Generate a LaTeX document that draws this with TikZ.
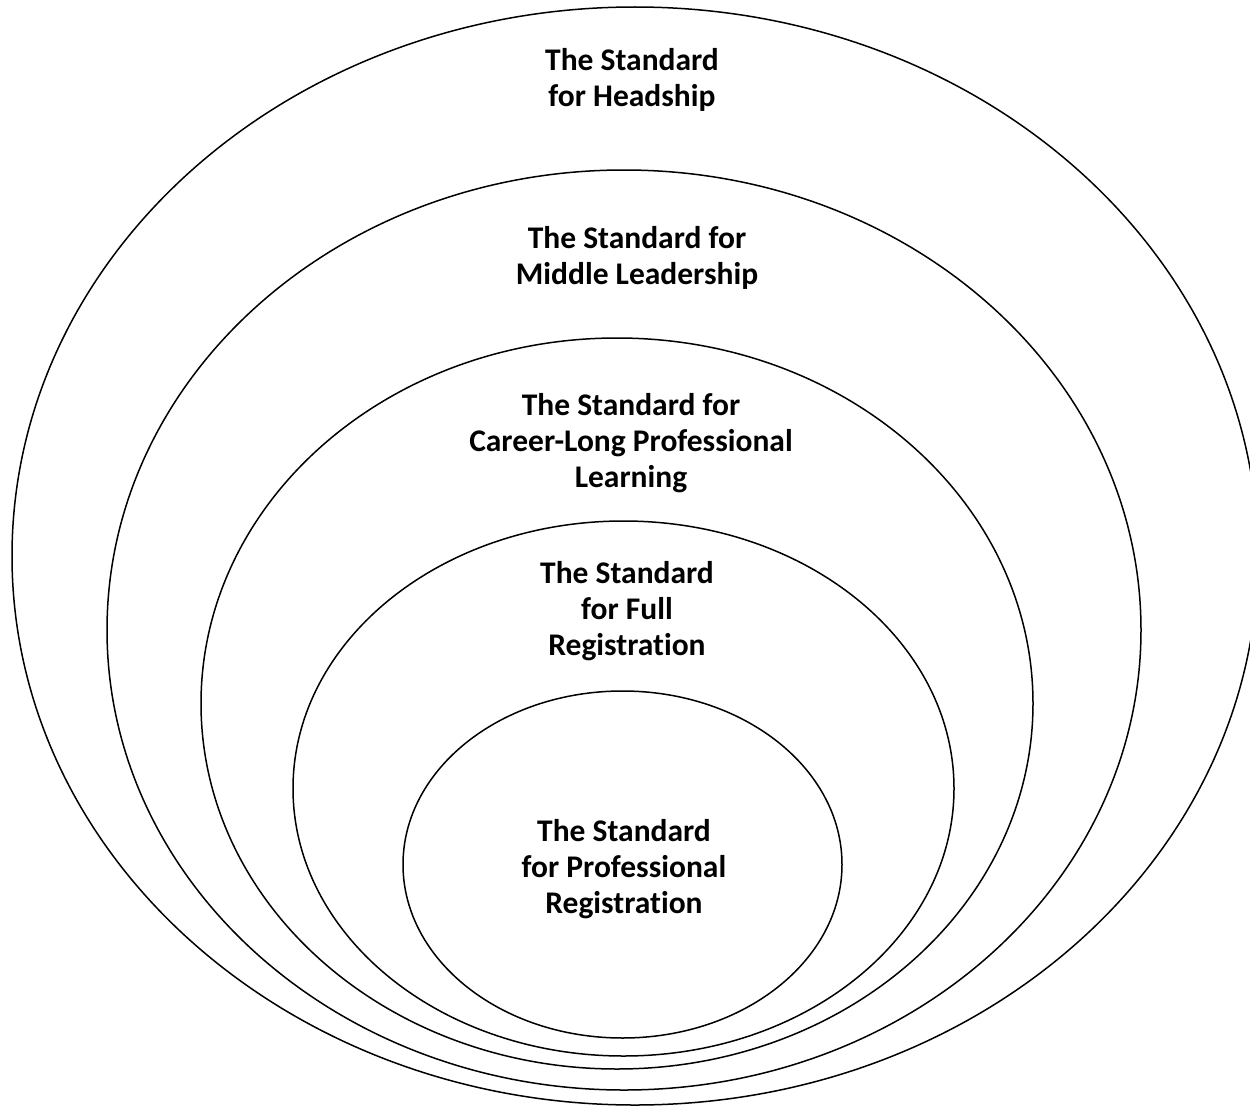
\documentclass[tikz,border=0pt]{standalone}
\usepackage{fontspec}
\setmainfont{Carlito}[Ligatures=NoCommon]
\begin{document}
\begin{tikzpicture}[x=1pt,y=-1pt,
  ring/.style={draw=black,line width=1.5pt},
  label/.style={font=\bfseries\fontsize{31.5}{36}\selectfont,align=center,inner sep=0pt}]
  \useasboundingbox (0,0) rectangle (1250,1108);
  \clip (0,0) rectangle (1250,1108);
  % nested standards, outermost first
  \draw[ring] (635,556) ellipse [x radius=623, y radius=549];
  \draw[ring] (624,630) ellipse [x radius=517, y radius=460];
  \draw[ring] (617,703.5) ellipse [x radius=416, y radius=365.5];
  \draw[ring] (623.5,788.5) ellipse [x radius=330.5, y radius=267.5];
  \draw[ring] (622.5,864.5) ellipse [x radius=219.5, y radius=173.5];
  % labels
  \node[label] (headship) at (632,80) {The Standard\\for Headship};
  \node[label] (middle) at (637,258) {The Standard for\\Middle Leadership};
  \node[label] (clpl) at (631,443) {The Standard for\\Career-Long Professional\\Learning};
  \node[label] (full) at (627,611) {The Standard\\for Full\\Registration};
  \node[label] (prof) at (624,869) {The Standard\\for Professional\\Registration};
\end{tikzpicture}
\end{document}
